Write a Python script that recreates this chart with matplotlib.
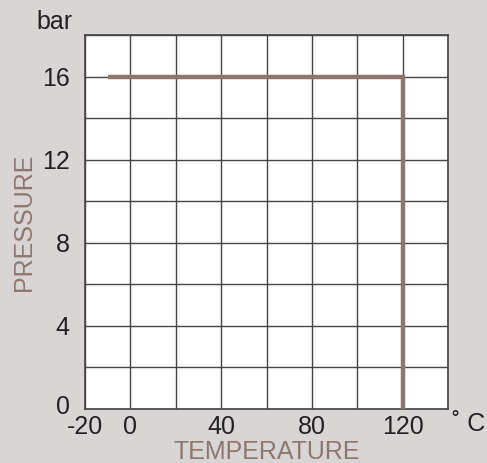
import matplotlib.pyplot as plt
from matplotlib.transforms import ScaledTranslation

# data
temperature = [-10, 120, 120]
pressure = [16, 16, 0]
xTicks = [-20, 0, 40, 80, 120]
yTicks = [0, 4, 8, 12, 16]

bgColor = '#d9d5d5'
lineColor = '#8c776f'
gridColor = '#444444'
fontSize = 18

plt.rcParams['font.family'] = ['Liberation Sans', 'DejaVu Sans']
plt.rcParams['axes.unicode_minus'] = False

fig = plt.figure(figsize=(4.87, 4.63), dpi=100, facecolor=bgColor)
ax = fig.add_axes([85/487, 54/463, 363/487, 374/463])
ax.set_facecolor('white')

ax.plot(temperature, pressure, color=lineColor, linewidth=3.2, solid_capstyle='butt', solid_joinstyle='miter', zorder=3)

ax.set_xlim(-20, 140)
ax.set_ylim(0, 18)
ax.set_xticks(range(-20, 141, 20), minor=True)
ax.set_yticks(range(0, 19, 2), minor=True)
ax.set_xticks(xTicks)
ax.set_yticks(yTicks)
ax.grid(which='both', color=gridColor, linewidth=1.0)
ax.tick_params(which='both', length=0, labelsize=fontSize, colors='#222222')
ax.tick_params(axis='x', pad=4)
ax.tick_params(axis='y', pad=11)
for s in ax.spines.values():
    s.set_color(gridColor)
    s.set_linewidth(1.2)

# the 0 label sits a little above the axis
lbl0 = ax.get_yticklabels()[0]
lbl0.set_transform(lbl0.get_transform() + ScaledTranslation(0, 5/100, fig.dpi_scale_trans))

ax.set_xlabel('TEMPERATURE', color=lineColor, fontsize=fontSize, labelpad=1)
ax.set_ylabel('PRESSURE', color=lineColor, fontsize=fontSize, labelpad=4)

fig.text(73/487, 1 - 22/463, 'bar', ha='right', va='center', fontsize=fontSize, color='#222222')
fig.text(469/487, 1 - 424/463, '\u02da C', ha='center', va='center', fontsize=fontSize, color='#222222')

fig.savefig('out.png', dpi=100, facecolor=bgColor)
